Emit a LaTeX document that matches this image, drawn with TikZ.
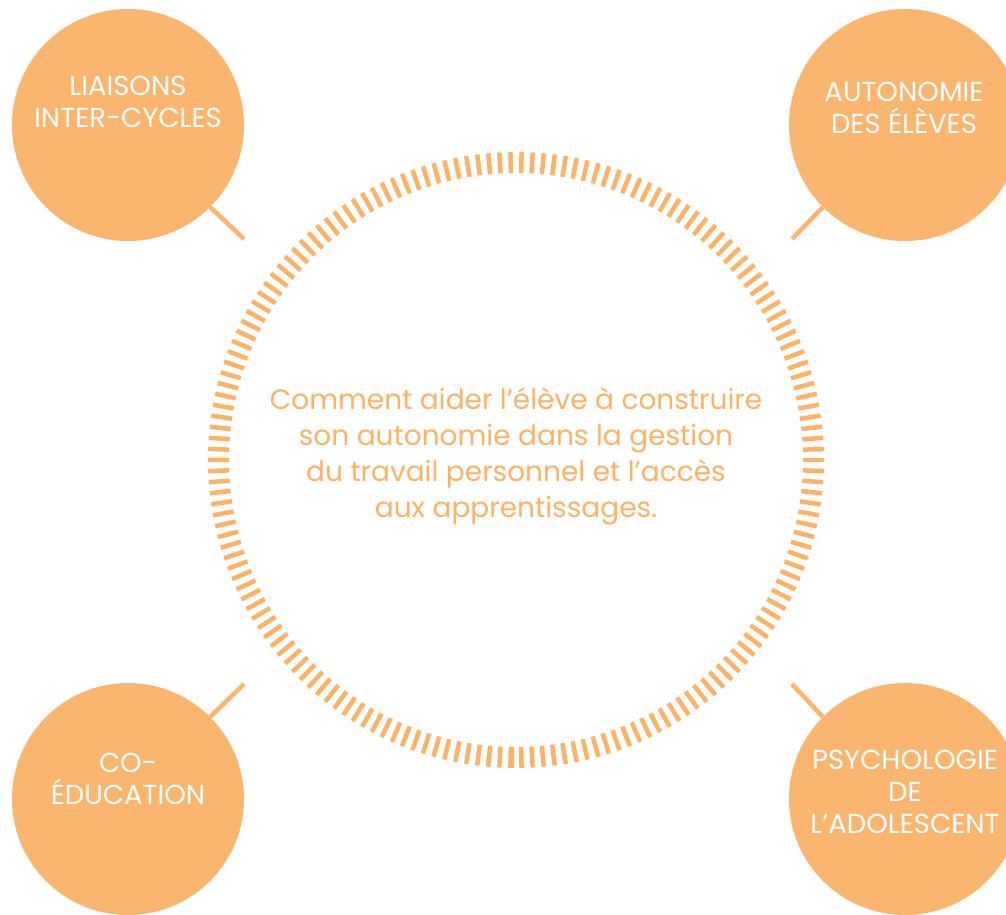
\documentclass[tikz,border=0pt]{standalone}
\usepackage{fontspec}
\setmainfont{Poppins}
\usepackage{tikz}
\definecolor{peach}{RGB}{250,182,110}
\definecolor{apricot}{RGB}{253,178,102}

\begin{document}
\begin{tikzpicture}[x=1pt,y=-1pt,
  bubble/.style={circle,fill=peach,minimum size=232pt,inner sep=0pt},
  caption/.style={align=center,text=white,font=\fontsize{27.5}{32}\selectfont},
  question/.style={align=center,text=apricot,font=\fontsize{28}{36}\selectfont},
  stem/.style={draw=peach,line width=4.5pt},
  ringtick/.style={draw=apricot,line width=4.5pt}]
\useasboundingbox (0,0) rectangle (1006,915);
\coordinate (hub) at (516,460);
\foreach \a in {0,2.069,...,358}
  \draw[ringtick] (hub) ++(\a:287) -- ++(\a:21);
\draw[ringtick] (hub) ++(90.8:287) -- ++(90.8:21);
\node[question] (theme) at (516,456) {Comment aider l’élève à construire\\son autonomie dans la gestion\\du travail personnel et l’accès\\aux apprentissages.};
\node[bubble] (liaisons) at (128,125) {};
\node[bubble] (autonomie) at (905,125) {};
\node[bubble] (coeduc) at (128,799) {};
\node[bubble] (psycho) at (905,799) {};
\node[caption] (liaisonstext) at (128,102) {LIAISONS\\INTER-CYCLES};
\node[caption] (autonomietext) at (904,108) {AUTONOMIE\\DES ÉLÈVES};
\node[caption] (coeductext) at (128,779) {CO-\\ÉDUCATION};
\node[caption] (psychotext) at (905,792) {PSYCHOLOGIE\\DE\\L’ADOLESCENT};
\coordinate (liaisonsend) at (244,239);
\coordinate (autonomieend) at (792,239);
\coordinate (coeducend) at (244,684);
\coordinate (psychoend) at (792,684);
\draw[stem] (liaisons.-45) -- (liaisonsend);
\draw[stem] (autonomie.-135) -- (autonomieend);
\draw[stem] (coeduc.45) -- (coeducend);
\draw[stem] (psycho.135) -- (psychoend);
\end{tikzpicture}
\end{document}
